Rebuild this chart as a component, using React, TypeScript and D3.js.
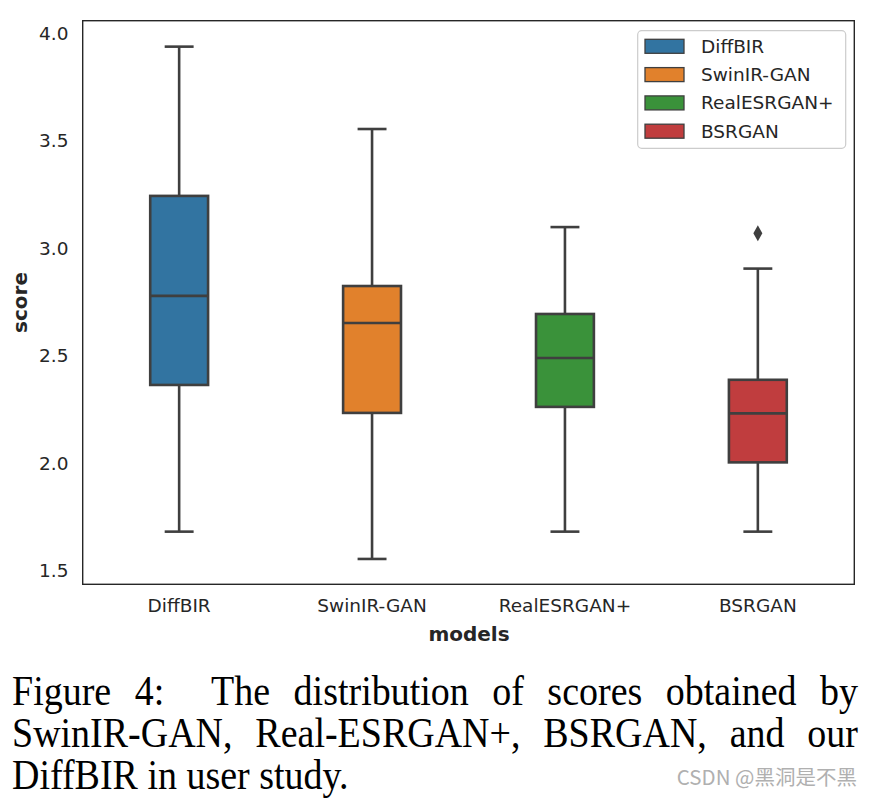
import React, { useEffect, useRef } from "react";
import * as d3 from "d3";

const models = ["DiffBIR", "SwinIR-GAN", "RealESRGAN+", "BSRGAN"];
const whiskerLow = [1.683, 1.556, 1.683, 1.683];
const q1 = [2.365, 2.235, 2.263, 2.005];
const median = [2.779, 2.653, 2.49, 2.233];
const q3 = [3.244, 2.825, 2.695, 2.389];
const whiskerHigh = [3.938, 3.555, 3.099, 2.906];
const outliers = [[], [], [], [3.07]];
const colors = ["#3274a1", "#e1812c", "#3a923a", "#c03d3e"];
const yTicks = [1.5, 2.0, 2.5, 3.0, 3.5, 4.0];
const captionLines = [
  ["Figure", "4:", "", "The", "distribution", "of", "scores", "obtained", "by"],
  ["SwinIR-GAN,", "Real-ESRGAN+,", "BSRGAN,", "and", "our"],
  ["DiffBIR", "in", "user", "study."],
];

export default function App() {
  const capRef = useRef<SVGGElement>(null);
  const left = 82.7, right = 854.3, top = 20.7, bottom = 584.3;
  const y = d3.scaleLinear().domain([1.5, 4.0]).range([571, 33.3]);
  const x = d3.scaleBand().domain(models).range([left, right]);
  const boxW = x.bandwidth() * 0.3;
  const lineC = "#3f3f3f";
  const lw = 2.6;
  const textC = "#262626";
  const font = "DejaVu Sans, sans-serif";

  useEffect(() => {
    if (!capRef.current) return;
    const g = d3.select(capRef.current);
    g.selectAll<SVGGElement, unknown>("g.line").each(function (_, li) {
      const texts = d3.select(this).selectAll<SVGTextElement, unknown>("text").nodes();
      const widths = texts.map((t) => t.getComputedTextLength());
      const total = widths.reduce((a, b) => a + b, 0);
      const gaps = texts.length - 1;
      const justify = li < 2;
      const space = justify ? (846 - total) / gaps : 9.5;
      let cx = 0;
      texts.forEach((t, i) => {
        t.setAttribute("x", String(cx));
        cx += widths[i] + space;
      });
    });
  }, []);

  return (
    <svg width={872} height={798} style={{ position: "absolute", left: 0, top: 0, background: "#fff" }}>
      {models.map((m, i) => {
        const cx = x(m)! + x.bandwidth() / 2;
        return (
          <g key={m}>
            <line x1={cx} x2={cx} y1={y(whiskerHigh[i])} y2={y(q3[i])} stroke={lineC} strokeWidth={lw} />
            <line x1={cx} x2={cx} y1={y(whiskerLow[i])} y2={y(q1[i])} stroke={lineC} strokeWidth={lw} />
            <line x1={cx - boxW / 4} x2={cx + boxW / 4} y1={y(whiskerHigh[i])} y2={y(whiskerHigh[i])} stroke={lineC} strokeWidth={lw} />
            <line x1={cx - boxW / 4} x2={cx + boxW / 4} y1={y(whiskerLow[i])} y2={y(whiskerLow[i])} stroke={lineC} strokeWidth={lw} />
            <rect x={cx - boxW / 2} width={boxW} y={y(q3[i])} height={y(q1[i]) - y(q3[i])} fill={colors[i]} stroke={lineC} strokeWidth={lw} />
            <line x1={cx - boxW / 2} x2={cx + boxW / 2} y1={y(median[i])} y2={y(median[i])} stroke={lineC} strokeWidth={lw} />
            {outliers[i].map((o, j) => {
              const oy = y(o);
              return (
                <path key={j} d={`M${cx},${oy - 8} L${cx + 4.5},${oy} L${cx},${oy + 8} L${cx - 4.5},${oy} Z`} fill={lineC} />
              );
            })}
          </g>
        );
      })}
      <rect x={left} y={top} width={right - left} height={bottom - top} fill="none" stroke={textC} strokeWidth={1.4} />
      {yTicks.map((t) => (
        <text key={t} x={68.5} y={y(t)} dy="0.35em" textAnchor="end" fontFamily={font} fontSize={18.5} fill={textC}>
          {t.toFixed(1)}
        </text>
      ))}
      {models.map((m) => (
        <text key={m} x={x(m)! + x.bandwidth() / 2} y={606} dy="0.35em" textAnchor="middle" fontFamily={font} fontSize={18.5} fill={textC}>
          {m}
        </text>
      ))}
      <text x={469} y={634} dy="0.35em" textAnchor="middle" fontFamily={font} fontSize={20} fontWeight="bold" fill={textC}>
        models
      </text>
      <text transform={`translate(20,${(top + bottom) / 2}) rotate(-90)`} dy="0.35em" textAnchor="middle" fontFamily={font} fontSize={20} fontWeight="bold" fill={textC}>
        score
      </text>
      <rect x={637.7} y={30.7} width={208} height={117.6} rx={4} fill="#fff" fillOpacity={0.8} stroke="#cccccc" strokeWidth={1.2} />
      {models.map((m, i) => (
        <g key={m}>
          <rect x={645} y={39.3 + i * 28.3} width={39} height={14} fill={colors[i]} stroke={lineC} strokeWidth={1.3} />
          <text x={701} y={46.3 + i * 28.3} dy="0.35em" fontFamily={font} fontSize={18.5} fill={textC}>
            {m}
          </text>
        </g>
      ))}
      <g ref={capRef}>
        {captionLines.map((words, li) => (
          <g key={li} className="line" transform={`translate(12,${705 + li * 42}) scale(1,1.12)`}>
            {words.map((w, wi) => (
              <text key={wi} x={0} y={0} fontFamily="Liberation Serif, Times New Roman, serif" fontSize={38} fill="#000">
                {w}
              </text>
            ))}
          </g>
        ))}
      </g>
      <text x={857} y={778} dy="0.35em" textAnchor="end" fontFamily="Noto Sans CJK SC, sans-serif" fontSize={20.5} fill="#b0b0b0">
        CSDN @黑洞是不黑
      </text>
    </svg>
  );
}
